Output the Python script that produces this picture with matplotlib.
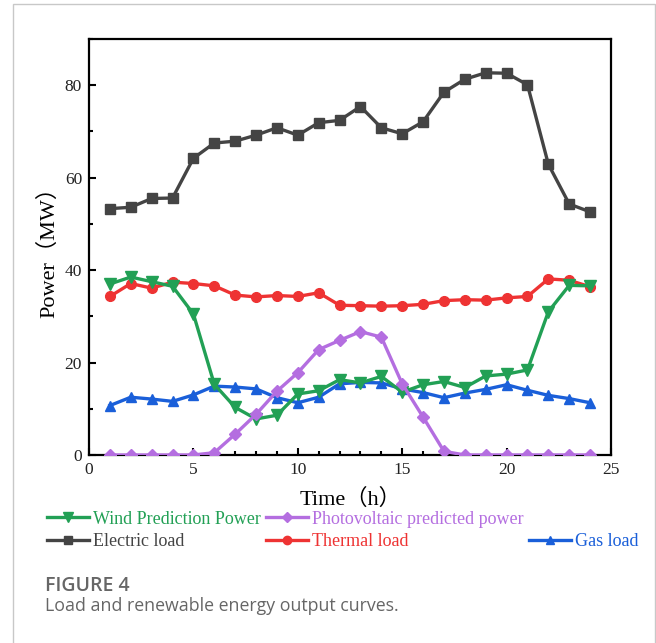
import numpy as np
import matplotlib
matplotlib.use("Agg")
import matplotlib.pyplot as plt
from matplotlib.lines import Line2D
from matplotlib.patches import Rectangle
from matplotlib.ticker import MultipleLocator

# hourly data (MW)
hours = list(range(1, 25))
electric = [53.3, 53.6, 55.5, 55.6, 64.2, 67.5, 67.9, 69.2, 70.8, 69.2, 71.9, 72.4,
            75.4, 70.8, 69.5, 72.1, 78.5, 81.3, 82.7, 82.6, 80.1, 62.9, 54.3, 52.6]
thermal = [34.3, 37.1, 36.1, 37.4, 37.1, 36.6, 34.6, 34.2, 34.5, 34.3, 35.1, 32.4,
           32.3, 32.2, 32.3, 32.6, 33.4, 33.6, 33.5, 34.0, 34.3, 38.1, 37.8, 36.4]
wind = [37.0, 38.5, 37.5, 36.5, 30.5, 15.3, 10.3, 7.8, 8.6, 13.2, 13.9, 16.3,
        15.6, 17.0, 13.6, 15.2, 15.9, 14.6, 17.1, 17.5, 18.4, 31.0, 36.7, 36.6]
pv = [0, 0, 0, 0, 0, 0.5, 4.5, 8.8, 13.8, 17.8, 22.8, 24.8,
      26.7, 25.5, 15.4, 8.2, 0.8, 0, 0, 0, 0, 0, 0, 0]
gas = [10.7, 12.5, 12.1, 11.6, 13.0, 14.9, 14.7, 14.3, 12.4, 11.3, 12.5, 15.4,
       15.7, 15.6, 14.3, 13.5, 12.4, 13.4, 14.2, 15.2, 14.0, 12.9, 12.2, 11.3]

c_wind = "#22a055"
c_pv = "#b46ee0"
c_elec = "#444444"
c_therm = "#ee3333"
c_gas = "#1a5fd9"

serif = ["Liberation Serif", "Noto Sans CJK SC"]

fig = plt.figure(figsize=(6.56, 6.43), dpi=100)
ax = fig.add_axes([0.1357, 0.2924, 0.7957, 0.6469])

lw = 2.4
ms = 7
ax.plot(hours, electric, color=c_elec, marker="s", lw=lw, ms=ms, zorder=3)
ax.plot(hours, thermal, color=c_therm, marker="o", lw=lw, ms=ms, zorder=3)
ax.plot(hours, gas, color=c_gas, marker="^", lw=lw, ms=ms, zorder=3)
ax.plot(hours, wind, color=c_wind, marker="v", lw=lw, ms=ms + 1, zorder=4)
ax.plot(hours, pv, color=c_pv, marker="D", lw=lw, ms=ms - 1, zorder=5)

ax.set_xlim(0, 25)
ax.set_ylim(0, 90)
ax.xaxis.set_major_locator(MultipleLocator(5))
ax.xaxis.set_minor_locator(MultipleLocator(1))
ax.yaxis.set_major_locator(MultipleLocator(20))
ax.yaxis.set_minor_locator(MultipleLocator(10))
ax.tick_params(which="both", direction="in", top=False, right=False)
ax.tick_params(which="major", length=5, width=1.5, labelsize=12.5, pad=5)
ax.tick_params(which="minor", length=3, width=1.5)
for lab in ax.get_xticklabels() + ax.get_yticklabels():
    lab.set_family(serif)
    lab.set_color("#222222")
for s in ax.spines.values():
    s.set_linewidth(1.6)

ax.set_xlabel("Time（h）", family=serif, fontsize=16, labelpad=8)
ax.set_ylabel("Power（MW）", family=serif, fontsize=16, labelpad=4)

# legend
def h(c, m, size):
    return Line2D([], [], color=c, marker=m, lw=lw, ms=size)

blank = Line2D([], [], color="none")
handles = [h(c_wind, "v", 7), h(c_elec, "s", 6), h(c_pv, "D", 5),
           h(c_therm, "o", 6), blank, h(c_gas, "^", 6)]
labels = ["Wind Prediction Power", "Electric load", "Photovoltaic predicted power",
          "Thermal load", "", "Gas load"]
leg = fig.legend(handles, labels, ncol=3, loc="upper left",
                 bbox_to_anchor=(0.071, 0.206), frameon=False,
                 prop={"family": serif, "size": 13},
                 handlelength=2.35, handletextpad=0.2, columnspacing=0.3,
                 labelspacing=0.32, borderaxespad=0, borderpad=0)
for t, c in zip(leg.get_texts(), [c_wind, c_elec, c_pv, c_therm, "none", c_gas]):
    t.set_color(c)

# caption
fig.text(0.0686, 1 - 586 / 643, "FIGURE 4", fontsize=14, color="#666666",
         family="Open Sans", fontweight="semibold", va="center")
fig.text(0.0686, 1 - 606 / 643, "Load and renewable energy output curves.",
         fontsize=12.8, color="#666666", family="Open Sans", va="center")

# frame around the figure panel
fig.patches.append(Rectangle((13 / 656, -0.1), (655 - 13) / 656, 1.1 - 4 / 643,
                             transform=fig.transFigure, fill=False,
                             edgecolor="#c8c8c8", lw=1.0))

fig.savefig("out.png", dpi=100)
